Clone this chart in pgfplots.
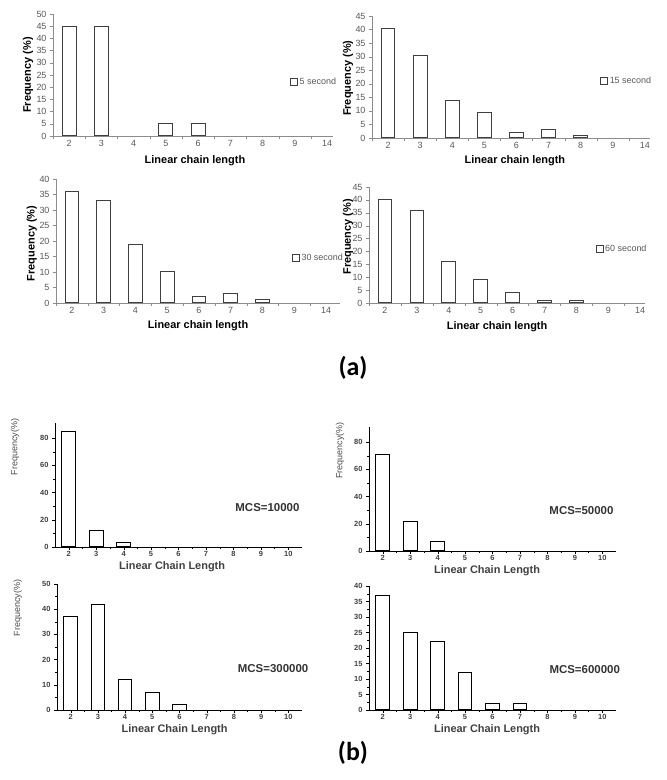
\documentclass[border=0pt]{standalone}
\usepackage{pgfplots}
\pgfplotsset{compat=1.18}
\usepackage{fontspec}
\setmainfont{Liberation Sans}
\newfontfamily\calfont{Carlito}
\definecolor{axgray}{HTML}{8C8C8C}
\definecolor{txtgray}{HTML}{595959}
\definecolor{bargray}{HTML}{3F3F3F}
\tikzset{mcs/.style={anchor=east, font=\bfseries\fontsize{11.5}{13}\selectfont, text=black!80}}
\pgfplotsset{
  astyle/.style={
    scale only axis, anchor=south west, clip=false,
    axis x line*=bottom, axis y line*=left,
    x axis line style={axgray, line width=0.8bp},
    y axis line style={axgray, line width=0.8bp},
    ymin=0, xmin=0.5,
    xtick={1,...,9}, xticklabels={2,3,4,5,6,7,8,9,14},
    minor xtick={0.5,1.5,...,9.5},
    major x tick style={draw=none},
    minor x tick style={axgray},
    y tick style={axgray},
    tick align=outside,
    major tick length=3bp, minor tick length=3bp,
    ticklabel style={font=\fontsize{9}{10}\selectfont, text=txtgray},
    xticklabel style={inner sep=1.5bp},
    /pgf/number format/assume math mode=true,
    ybar, bar width=0.43,
    label style={font=\bfseries\fontsize{11}{12}\selectfont, inner sep=1bp},
    xlabel={Linear chain length}, ylabel={Frequency (\%)},
    legend style={draw=none, fill=none, font=\fontsize{9}{10}\selectfont, text=txtgray, anchor=west, inner sep=0pt},
    legend image code/.code={\draw[bargray, line width=0.6bp, fill=white] (0bp,-3.5bp) rectangle (7bp,3.5bp);},
  },
  abar/.style={draw=bargray, fill=white, line width=1bp},
  bstyle/.style={
    scale only axis, anchor=south west, clip=false,
    axis x line*=bottom, axis y line*=left,
    x axis line style={black, line width=0.8bp},
    y axis line style={black, line width=0.8bp},
    ymin=0, xmin=1.5, xmax=10.5,
    xtick={2,...,10}, minor x tick num=1, minor y tick num=1,
    tick align=outside, tick style={black},
    major tick length=3bp, minor tick length=2bp,
    ticklabel style={font=\bfseries\fontsize{7.5}{8}\selectfont, text=black!75},
    xticklabel style={inner sep=1bp},
    /pgf/number format/assume math mode=true,
    ybar, bar width=0.5,
    xlabel={Linear Chain Length}, ylabel={Frequency(\%)},
    xlabel style={font=\bfseries\fontsize{11}{12}\selectfont, text=black!75, inner sep=1bp},
    ylabel style={font=\fontsize{9}{10}\selectfont, text=black!70},
  },
  bbar/.style={draw=black, fill=white, line width=1bp},
}
\begin{document}
\begin{tikzpicture}
\useasboundingbox (0bp,0bp) rectangle (667bp,780bp);
% ---------- (a) top-left
\begin{axis}[astyle, at={(53bp,644bp)}, width=280bp, height=122bp, xmax=9.18, ymax=50, ytick={0,5,...,50},
  xlabel style={at={(axis description cs:0.507,-0.2)}, anchor=center},
  ylabel style={at={(axis description cs:-0.089,0.5)}, anchor=center},
  legend style={at={(axis description cs:0.846,0.443)}}]
\addplot[abar] coordinates {(1,45) (2,45) (4,5) (5,5)};
\addlegendentry{5 second}
\end{axis}
% ---------- (a) top-right
\begin{axis}[astyle, at={(372bp,642bp)}, width=278bp, height=122bp, xmax=9.16, ymax=45, ytick={0,5,...,45},
  xlabel style={at={(axis description cs:0.514,-0.19)}, anchor=center},
  ylabel style={at={(axis description cs:-0.086,0.49)}, anchor=center},
  legend style={at={(axis description cs:0.82,0.467)}}]
\addplot[abar] coordinates {(1,40.5) (2,30.3) (3,13.7) (4,9.4) (5,2) (6,3) (7,1)};
\addlegendentry{15 second}
\end{axis}
% ---------- (a) middle-left
\begin{axis}[astyle, at={(56bp,477bp)}, width=284bp, height=124bp, xmax=9.44, ymax=40, ytick={0,5,...,40},
  xlabel style={at={(axis description cs:0.5,-0.185)}, anchor=center},
  ylabel style={at={(axis description cs:-0.085,0.48)}, anchor=center},
  legend style={at={(axis description cs:0.83,0.363)}}]
\addplot[abar] coordinates {(1,36) (2,33) (3,19) (4,10) (5,2) (6,3) (7,1)};
\addlegendentry{30 second}
\end{axis}
% ---------- (a) middle-right
\begin{axis}[astyle, at={(369bp,477bp)}, width=276bp, height=116bp, xmax=9.15, ymax=45, ytick={0,5,...,45},
  xlabel style={at={(axis description cs:0.464,-0.205)}, anchor=center},
  ylabel style={at={(axis description cs:-0.076,0.57)}, anchor=center},
  legend style={at={(axis description cs:0.82,0.466)}}]
\addplot[abar] coordinates {(1,40) (2,36) (3,16) (4,9) (5,4) (6,1) (7,1)};
\addlegendentry{60 second}
\end{axis}
% ---------- (b) top-left
\begin{axis}[bstyle, at={(55bp,233bp)}, width=247bp, height=124bp, ymax=91, ytick={0,20,...,80},
  xlabel style={at={(axis description cs:0.474,-0.158)}, anchor=center},
  ylabel style={at={(axis description cs:-0.162,0.806)}, anchor=center}]
\addplot[bbar] coordinates {(2,85) (3,12) (4,3)};
\node[mcs] at (rel axis cs:1.004,0.32) {MCS=10000};
\end{axis}
% ---------- (b) top-right
\begin{axis}[bstyle, at={(369bp,229bp)}, width=247bp, height=124bp, ymax=91, ytick={0,20,...,80},
  xlabel style={at={(axis description cs:0.478,-0.158)}, anchor=center},
  ylabel style={at={(axis description cs:-0.117,0.81)}, anchor=center}]
\addplot[bbar] coordinates {(2,71) (3,22) (4,7)};
\node[mcs] at (rel axis cs:1.004,0.33) {MCS=50000};
\end{axis}
% ---------- (b) bottom-left
\begin{axis}[bstyle, at={(57bp,70bp)}, width=245bp, height=126bp, ymax=50, ytick={0,10,...,50},
  xlabel style={at={(axis description cs:0.48,-0.156)}, anchor=center},
  ylabel style={at={(axis description cs:-0.16,0.81)}, anchor=center}]
\addplot[bbar] coordinates {(2,37) (3,42) (4,12) (5,7) (6,2)};
\node[mcs] at (rel axis cs:1.04,0.325) {MCS=300000};
\end{axis}
% ---------- (b) bottom-right
\begin{axis}[bstyle, at={(369bp,70bp)}, width=247bp, height=124bp, ymax=40, ytick={0,5,...,40},
  ylabel={},
  xlabel style={at={(axis description cs:0.478,-0.158)}, anchor=center}]
\addplot[bbar] coordinates {(2,37) (3,25) (4,22) (5,12) (6,2) (7,2)};
\node[mcs] at (rel axis cs:1.03,0.33) {MCS=600000};
\end{axis}
\node[font=\calfont\bfseries\fontsize{26}{30}\selectfont] at (353bp,412bp) {(a)};
\node[font=\calfont\bfseries\fontsize{26}{30}\selectfont] at (353bp,27bp) {(b)};
\end{tikzpicture}
\end{document}
